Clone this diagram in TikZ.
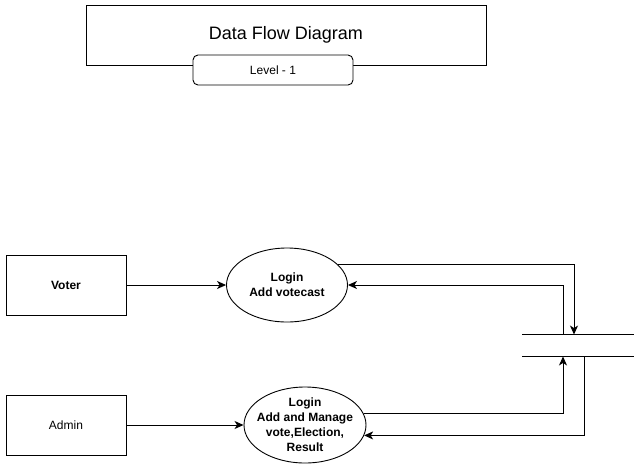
\documentclass[tikz,border=0pt]{standalone}
\usepackage{fontspec}
\setmainfont{Liberation Sans}
\usetikzlibrary{arrows.meta,shapes.geometric}
\begin{document}
\begin{tikzpicture}[x=1pt,y=-1pt,
  line width=0.9pt,
  flow/.style={-{Stealth[length=9pt,width=8pt,inset=2.5pt]},line width=0.9pt},
  entity/.style={draw,rectangle,minimum width=120pt,minimum height=60pt,inner sep=0pt,font=\fontsize{12}{15}\selectfont},
  proc/.style={draw,ellipse,inner sep=0pt},
  proctext/.style={align=center,font=\fontsize{12}{15}\selectfont\bfseries}]
\useasboundingbox (0,0) rectangle (640,472);
\node[draw,rectangle,minimum width=400pt,minimum height=60pt,inner sep=0pt,font=\fontsize{18}{21}\selectfont] (title) at (286,35) {Data Flow Diagram};
\node[draw,rectangle,rounded corners=5pt,fill=white,minimum width=160pt,minimum height=30pt,inner sep=0pt,font=\fontsize{12}{14}\selectfont] (level) at (273,70) {Level - 1};
\node[entity,font=\fontsize{12}{15}\selectfont\bfseries] (voter) at (66,285) {Voter};
\node[entity] (admin) at (66,425) {Admin};
\node[proc,minimum width=121pt,minimum height=74pt] (e1) at (287,285) {};
\node[proctext] (t1) at (e1.center) {Login\\Add votecast};
\node[proc,minimum width=122pt,minimum height=76pt] (e2) at (305,425) {};
\node[proctext] (t2) at (e2.center) {Login\\Add and Manage\\vote,Election,\\Result};
\node[minimum width=111pt,minimum height=21pt,inner sep=0pt] (store) at (578,345.5) {};
\draw (store.north west) -- (store.north east);
\draw (store.south west) -- (store.south east);
\draw[flow] (voter.east) -- (e1.west);
\draw[flow] (admin.east) -- (e2.west);
\draw[flow] (e1.22) -| ([xshift=-4pt]store.north);
\draw[flow] ([xshift=-15pt]store.north) |- (e1.east);
\draw[flow] (e2.11) -| ([xshift=-15pt]store.south);
\draw[flow] ([xshift=6pt]store.south) |- (e2.-10);
\end{tikzpicture}
\end{document}
